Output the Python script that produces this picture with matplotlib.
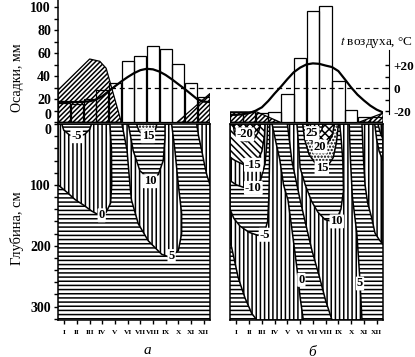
import numpy as np
import matplotlib.pyplot as plt
import matplotlib.transforms as mtransforms
from matplotlib.patches import Rectangle

plt.rcParams['font.family'] = ['Liberation Serif', 'DejaVu Serif']
plt.rcParams['mathtext.fontset'] = 'stix'
plt.rcParams['hatch.linewidth'] = 1.1

# месяцы
months = ['I', 'II', 'III', 'IV', 'V', 'VI', 'VII', 'VIII', 'IX', 'X', 'XI', 'XII']
mon_x = np.arange(1, 13)

# осадки, мм
precip_a = [17, 16, 20, 28, 34, 53, 58, 66, 64, 51, 34, 22]
precip_b = [9, 9, 8, 9, 25, 56, 97, 101, 36, 11, 5, 5]

# температура воздуха, °C (по полумесяцам)
t_x = np.arange(0.5, 12.51, 0.5)
temp_a = [-11.7, -11.8, -11.9, -11.9, -11.7, -11.2, -9.8, -6.8, -2.5, 1.8, 6.0, 9.8, 13.2,
          15.8, 17.0, 16.5, 14.6, 11.6, 7.8, 3.6, -0.5, -5.0, -9.5, -11.5, -12.0]
temp_b = [-23, -23, -22.5, -21.5, -19.5, -16.5, -11, -4.5, 1.5, 8, 14, 18, 20.8,
          21.7, 21.3, 19.8, 18.5, 15, 8, 0.8, -5.5, -10.5, -15, -18.5, -21]

# снежный покров (заштрихованные области над осью)
snow_a = [([0.5, 3.0, 3.8, 4.3, 5.5], [28, 55, 53, 47, 0]),
          ([9.9, 12.5], [0, 25])]
snow_b = [([0.5, 2.6, 4.45], [9, 9, 0]),
          ([10.6, 12.5], [0, 8])]

# изоплеты температуры почвы: интервал, месяц, глубина (см)
soil_a = [
    ('-5..0', [0.5, 4.6, 4.72, 4.74, 4.65, 4.3, 3.95, 3.5, 3.16, 2.5, 1.84, 1.2, 0.5],
              [0, 0, 40, 100, 130, 145, 150, 147, 143, 133, 124, 112, 100]),
    ('-5..0', [11.45, 11.6, 11.84, 12.05, 12.24, 12.5, 12.5],
              [0, 20, 43, 65, 83, 100, 0]),
    ('-10..-5', [0.8, 0.95, 1.4, 2.0, 2.6, 3.0, 3.15],
                [0, 10, 18, 21, 17, 9, 0]),
    ('5..10', [5.55, 5.95, 6.18, 6.3, 6.84, 7.63, 8.68, 9.34, 10.0, 10.26, 10.26, 10.0, 9.73, 9.47],
              [0, 43, 100, 125, 164, 192, 214, 219, 208, 180, 147, 100, 43, 0]),
    ('10..15', [6.05, 6.44, 6.97, 7.76, 8.42, 8.81, 8.95, 8.95],
               [0, 44, 77, 91, 83, 60, 22, 0]),
    ('15..20', [6.7, 6.9, 7.3, 7.7, 8.0, 8.2, 8.3],
               [0, 12, 18, 20, 16, 9, 0]),
]
labels_a = [('-5', 1.97, 20), ('0', 3.95, 150), ('15', 7.6, 20), ('10', 7.76, 94), ('5', 9.47, 217)]

soil_b = [
    ('-5..0', [0.5, 3.8, 4.1, 4.4, 4.7, 5.05, 5.4, 5.75, 6.0, 6.25, 2.6, 2.2, 1.68, 1.15, 0.63, 0.5],
              [0, 0, 30, 58, 100, 125, 180, 237, 285, 322, 322, 311, 286, 253, 203, 195]),
    ('-5..0', [10.85, 10.95, 11.09, 11.3, 11.61, 11.87, 12.2, 12.5, 12.5],
              [0, 50, 100, 130, 154, 179, 190, 198, 0]),
    ('-10..-5', [0.5, 0.5, 0.8, 1.3, 2.0, 2.7, 3.2, 3.45, 3.55, 3.6, 3.62],
                [0, 140, 155, 168, 178, 183, 178, 160, 120, 60, 0]),
    ('-15..-10', [0.5, 0.5, 1.0, 1.7, 2.3, 2.9, 3.25, 3.4, 3.45],
                 [0, 93, 100, 105, 104, 92, 65, 30, 0]),
    ('-20..-15', [0.5, 0.5, 0.9, 1.5, 2.1, 2.6, 3.0, 3.2, 3.25],
                 [0, 55, 60, 66, 68, 62, 45, 20, 0]),
    ('<-20', [0.75, 0.85, 1.2, 1.8, 2.4, 2.75, 2.9],
             [0, 15, 25, 29, 24, 12, 0]),
    ('-10..-5', [11.85, 12.0, 12.2, 12.5, 12.5], [0, 25, 45, 60, 0]),
    ('-15..-10', [12.1, 12.3, 12.5, 12.5], [0, 15, 25, 0]),
    ('5..10', [5.0, 5.35, 6.0, 6.5, 6.93, 7.5, 8.0, 8.5, 10.85, 10.7, 10.45, 10.1, 9.95, 9.85],
              [0, 60, 125, 170, 208, 250, 290, 322, 322, 260, 180, 120, 60, 0]),
    ('10..15', [5.75, 5.9, 6.0, 6.4, 6.9, 7.4, 7.95, 8.5, 8.9, 9.2, 9.4, 9.35, 9.2, 9.1],
               [0, 40, 72, 100, 127, 145, 157, 160, 155, 140, 110, 60, 20, 0]),
    ('15..20', [6.2, 6.35, 6.7, 7.2, 7.7, 8.2, 8.6, 8.85, 9.0],
               [0, 25, 50, 65, 72, 68, 55, 30, 0]),
    ('20..25', [6.5, 6.7, 7.1, 7.6, 8.1, 8.5, 8.7],
               [0, 20, 33, 38, 33, 20, 0]),
    ('>25', [6.6, 6.75, 7.0, 7.4, 7.7, 7.8],
            [0, 12, 20, 18, 10, 0]),
]
labels_b = [('-20', 1.68, 17), ('-15', 2.33, 67), ('-10', 2.33, 105), ('-5', 3.24, 182),
            ('0', 6.1, 256), ('5', 10.7, 262), ('10', 8.87, 160), ('15', 7.7, 72),
            ('20', 7.56, 37), ('25', 6.95, 15)]

HATCH = {'<-20': 'xxxxx', '-20..-15': '\\\\\\\\\\', '-15..-10': '||||', '-10..-5': '----',
         '-5..0': '||||', '0..5': '----', '5..10': '||||', '10..15': '----',
         '15..20': '.....', '20..25': 'xxxx', '>25': '++++'}

W, H = 415, 357


def box(x0, y0, x1, y1):
    return [x0 / W, 1 - y1 / H, (x1 - x0) / W, (y1 - y0) / H]


fig = plt.figure(figsize=(W / 100, H / 100), dpi=100)
ax_pa = fig.add_axes(box(58, 0, 210, 124))
ax_pb = fig.add_axes(box(230, 0, 383, 124))
ax_sa = fig.add_axes(box(58, 124, 210, 320))
ax_sb = fig.add_axes(box(230, 124, 383, 320))

# верх: осадки, снег, температура воздуха
for ax in (ax_pa, ax_pb):
    ax.set_xlim(0.5, 12.5)
    ax.set_ylim(-1.5, 106.3)
    ax.patch.set_visible(False)
    for s in ax.spines.values():
        s.set_visible(False)
    ax.set_xticks([])
ax_pb.set_yticks([])
ax_pa.spines['left'].set_visible(True)
ax_pa.spines['left'].set_linewidth(1.1)
ax_pa.set_yticks(range(0, 101, 20))
ax_pa.set_yticks(range(0, 101, 10), minor=True)
ax_pa.tick_params(axis='y', which='both', direction='out', length=3, width=1, labelsize=10, pad=2)
for t in ax_pa.get_yticklabels():
    t.set_fontweight('bold')
ax_pa.yaxis.get_major_ticks()[0].label1.set_va('bottom')

ax_ta = ax_pa.twinx()
ax_tb = ax_pb.twinx()
for ax in (ax_ta, ax_tb):
    ax.set_ylim(-31, 76.8)
    for s in ax.spines.values():
        s.set_visible(False)
ax_ta.set_yticks([])
ax_tb.spines['right'].set_visible(True)
ax_tb.spines['right'].set_position(('outward', 4.5))
ax_tb.spines['right'].set_bounds(-22, 33)
ax_tb.set_yticks([-20, -10, 0, 10, 20])
ax_tb.set_yticklabels(['-20', '', '0', '', '+20'])
ax_tb.tick_params(axis='y', direction='in', length=3, width=1, labelsize=9.5, pad=3)
for t in ax_tb.get_yticklabels():
    t.set_fontweight('bold')

# пунктир 0 °C через обе панели
trans = mtransforms.blended_transform_factory(ax_pa.transAxes, ax_ta.transData)
ax_pa.plot([0, (389 - 58) / (210 - 58)], [0, 0], transform=trans, clip_on=False,
           color='black', lw=0.9, ls=(0, (4, 3)), zorder=1)

for ax, axt, snow, precip, temp in ((ax_pa, ax_ta, snow_a, precip_a, temp_a),
                                    (ax_pb, ax_tb, snow_b, precip_b, temp_b)):
    for xs, hs in snow:
        ax.fill_between(xs, 0, hs, facecolor='white', edgecolor='black',
                        hatch='///////', lw=0.9, zorder=2)
    ax.bar(mon_x, precip, width=0.97, facecolor='none', edgecolor='black', lw=0.9, zorder=3)
    axt.plot(t_x, temp, color='black', lw=1.6, zorder=4)

# низ: температура почвы
for ax, regions, labels in ((ax_sa, soil_a, labels_a), (ax_sb, soil_b, labels_b)):
    ax.set_xlim(0.5, 12.5)
    ax.set_ylim(322, 0)
    ax.add_patch(Rectangle((0, 0), 1, 1, transform=ax.transAxes, facecolor='white',
                           edgecolor='black', lw=0, hatch=HATCH['0..5'], zorder=0))
    for band, ms, ds in regions:
        ax.fill(ms, ds, facecolor='white', edgecolor='black', hatch=HATCH[band], lw=1.1, zorder=1)
    for txt, m, d in labels:
        ax.text(m, d, txt, ha='center', va='center', fontsize=9, fontweight='bold', zorder=5,
                bbox=dict(boxstyle='round,pad=0.08', fc='white', ec='none'))
    ax.set_xticks(mon_x)
    ax.set_xticklabels(months, fontsize=5.3, fontweight='bold')
    ax.tick_params(axis='x', direction='out', length=3, width=1, pad=4)
    for s in ax.spines.values():
        s.set_linewidth(1.1)

ax_sa.set_yticks([0, 100, 200, 300])
ax_sa.set_yticks(range(0, 321, 20), minor=True)
ax_sa.tick_params(axis='y', which='both', direction='out', length=3, width=1, labelsize=10, pad=2)
for t in ax_sa.get_yticklabels():
    t.set_fontweight('bold')
ax_sa.yaxis.get_major_ticks()[0].label1.set_va('top')
ax_sb.set_yticks([])

fig.text(18 / W, 1 - 78 / H, 'Осадки, мм', rotation=90, ha='center', va='center', fontsize=10)
fig.text(17 / W, 1 - 228 / H, 'Глубина, см', rotation=90, ha='center', va='center', fontsize=10.5)
fig.text(413 / W, 1 - 42 / H, r'$t$ воздуха, °C', ha='right', va='center', fontsize=9.5)
fig.text(147 / W, 1 - 350 / H, 'а', style='italic', ha='center', va='center', fontsize=11)
fig.text(312 / W, 1 - 352 / H, 'б', style='italic', ha='center', va='center', fontsize=11)

fig.savefig('out.png', dpi=100)
